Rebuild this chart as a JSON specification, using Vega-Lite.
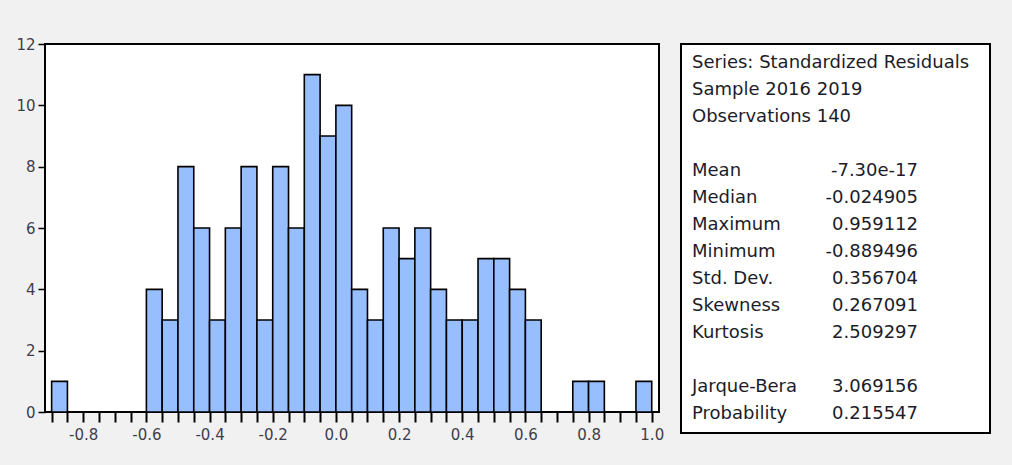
{
  "$schema": "https://vega.github.io/schema/vega-lite/v6.json",
  "background": "#f1f1f1",
  "padding": {"left": 14, "top": 36, "right": 22, "bottom": 22},
  "config": {
    "view": {"stroke": "#000000", "strokeWidth": 2, "fill": "#ffffff"},
    "font": "DejaVu Sans"
  },
  "bounds": "flush",
  "spacing": 22,
  "hconcat": [
    {
      "width": 614,
      "height": 368,
      "data": {
        "values": [
          {"bin_start": -0.90, "bin_end": -0.85, "count": 1},
          {"bin_start": -0.85, "bin_end": -0.80, "count": 0},
          {"bin_start": -0.80, "bin_end": -0.75, "count": 0},
          {"bin_start": -0.75, "bin_end": -0.70, "count": 0},
          {"bin_start": -0.70, "bin_end": -0.65, "count": 0},
          {"bin_start": -0.65, "bin_end": -0.60, "count": 0},
          {"bin_start": -0.60, "bin_end": -0.55, "count": 4},
          {"bin_start": -0.55, "bin_end": -0.50, "count": 3},
          {"bin_start": -0.50, "bin_end": -0.45, "count": 8},
          {"bin_start": -0.45, "bin_end": -0.40, "count": 6},
          {"bin_start": -0.40, "bin_end": -0.35, "count": 3},
          {"bin_start": -0.35, "bin_end": -0.30, "count": 6},
          {"bin_start": -0.30, "bin_end": -0.25, "count": 8},
          {"bin_start": -0.25, "bin_end": -0.20, "count": 3},
          {"bin_start": -0.20, "bin_end": -0.15, "count": 8},
          {"bin_start": -0.15, "bin_end": -0.10, "count": 6},
          {"bin_start": -0.10, "bin_end": -0.05, "count": 11},
          {"bin_start": -0.05, "bin_end": 0.00, "count": 9},
          {"bin_start": 0.00, "bin_end": 0.05, "count": 10},
          {"bin_start": 0.05, "bin_end": 0.10, "count": 4},
          {"bin_start": 0.10, "bin_end": 0.15, "count": 3},
          {"bin_start": 0.15, "bin_end": 0.20, "count": 6},
          {"bin_start": 0.20, "bin_end": 0.25, "count": 5},
          {"bin_start": 0.25, "bin_end": 0.30, "count": 6},
          {"bin_start": 0.30, "bin_end": 0.35, "count": 4},
          {"bin_start": 0.35, "bin_end": 0.40, "count": 3},
          {"bin_start": 0.40, "bin_end": 0.45, "count": 3},
          {"bin_start": 0.45, "bin_end": 0.50, "count": 5},
          {"bin_start": 0.50, "bin_end": 0.55, "count": 5},
          {"bin_start": 0.55, "bin_end": 0.60, "count": 4},
          {"bin_start": 0.60, "bin_end": 0.65, "count": 3},
          {"bin_start": 0.65, "bin_end": 0.70, "count": 0},
          {"bin_start": 0.70, "bin_end": 0.75, "count": 0},
          {"bin_start": 0.75, "bin_end": 0.80, "count": 1},
          {"bin_start": 0.80, "bin_end": 0.85, "count": 1},
          {"bin_start": 0.85, "bin_end": 0.90, "count": 0},
          {"bin_start": 0.90, "bin_end": 0.95, "count": 0},
          {"bin_start": 0.95, "bin_end": 1.00, "count": 1}
        ]
      },
      "transform": [{"filter": "datum.count > 0"}],
      "mark": {"type": "bar", "fill": "#97bfff", "stroke": "#000000", "strokeWidth": 1.6},
      "encoding": {
        "x": {
          "field": "bin_start",
          "type": "quantitative",
          "scale": {"domain": [-0.921, 1.023], "nice": false, "zero": false},
          "axis": {
            "title": null,
            "grid": false,
            "domain": false,
            "values": [-0.9, -0.85, -0.8, -0.75, -0.7, -0.65, -0.6, -0.55, -0.5, -0.45, -0.4, -0.35, -0.3, -0.25, -0.2, -0.15, -0.1, -0.05, 0, 0.05, 0.1, 0.15, 0.2, 0.25, 0.3, 0.35, 0.4, 0.45, 0.5, 0.55, 0.6, 0.65, 0.7, 0.75, 0.8, 0.85, 0.9, 0.95, 1.0],
            "labelExpr": "abs(round(datum.value * 20)) % 4 == 0 ? replace(format(datum.value, '.1f'), '\u2212', '-') : ''",
            "tickSize": 10,
            "tickWidth": 2,
            "tickColor": "#000000",
            "labelPadding": 5,
            "labelFontSize": 15,
            "labelColor": "#3e3e4c",
            "labelFlush": false,
            "labelOverlap": false
          }
        },
        "x2": {"field": "bin_end"},
        "y": {
          "field": "count",
          "type": "quantitative",
          "scale": {"domain": [0, 12], "nice": false},
          "axis": {
            "title": null,
            "grid": false,
            "domain": false,
            "values": [0, 2, 4, 6, 8, 10, 12],
            "tickSize": 7,
            "tickWidth": 1.5,
            "tickColor": "#000000",
            "labelPadding": 3,
            "labelFontSize": 15,
            "labelColor": "#3e3e4c"
          }
        },
        "y2": {"datum": 0}
      }
    },
    {
      "width": 309,
      "height": 389,
      "data": {
        "values": [
          {"line": 0, "name": "Series: Standardized Residuals", "value": ""},
          {"line": 1, "name": "Sample 2016 2019", "value": ""},
          {"line": 2, "name": "Observations 140", "value": ""},
          {"line": 4, "name": "Mean", "value": "-7.30e-17"},
          {"line": 5, "name": "Median", "value": "-0.024905"},
          {"line": 6, "name": "Maximum", "value": "0.959112"},
          {"line": 7, "name": "Minimum", "value": "-0.889496"},
          {"line": 8, "name": "Std. Dev.", "value": "0.356704"},
          {"line": 9, "name": "Skewness", "value": "0.267091"},
          {"line": 10, "name": "Kurtosis", "value": "2.509297"},
          {"line": 12, "name": "Jarque-Bera", "value": "3.069156"},
          {"line": 13, "name": "Probability", "value": "0.215547"}
        ]
      },
      "encoding": {
        "y": {
          "field": "line",
          "type": "quantitative",
          "scale": {"domain": [0, 13], "range": [19, 370]},
          "axis": null
        }
      },
      "layer": [
        {
          "mark": {"type": "text", "align": "left", "baseline": "middle", "fontSize": 18, "color": "#1c1c28"},
          "encoding": {
            "x": {"datum": "name", "type": "nominal", "scale": {"type": "point", "domain": ["name", "value"], "range": [11, 237], "padding": 0}, "axis": null},
            "text": {"field": "name"}
          }
        },
        {
          "mark": {"type": "text", "align": "right", "baseline": "middle", "fontSize": 18, "color": "#1c1c28"},
          "encoding": {
            "x": {"datum": "value", "type": "nominal", "axis": null},
            "text": {"field": "value"}
          }
        }
      ]
    }
  ]
}
